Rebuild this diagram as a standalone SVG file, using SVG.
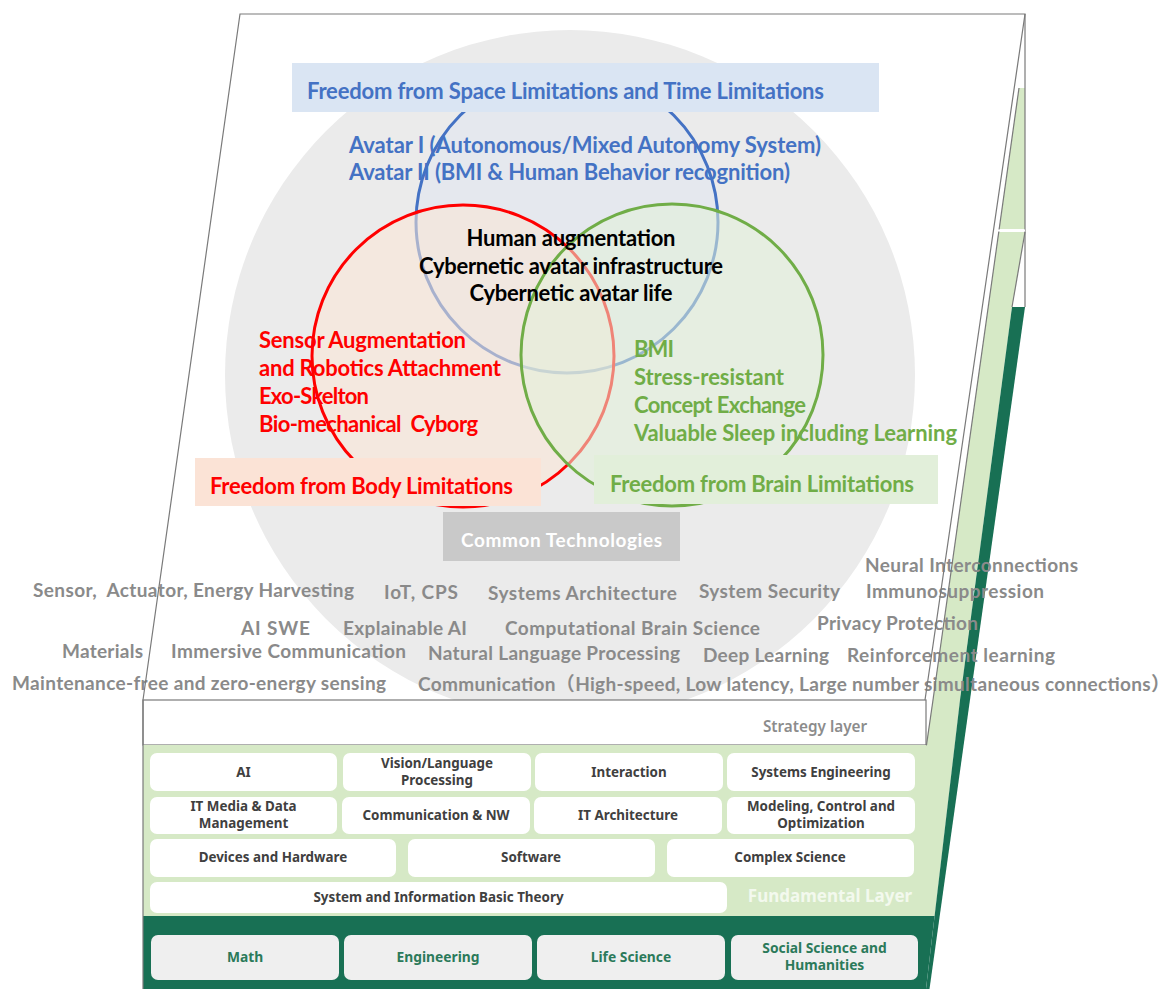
<svg xmlns="http://www.w3.org/2000/svg" width="1173" height="989" viewBox="0 0 1173 989">
<style>
text{white-space:pre}
.t{font-family:Lato,"Liberation Sans",sans-serif;font-weight:700;font-size:22px}
.tech{font-family:Lato,"Liberation Sans","Noto Sans CJK JP",sans-serif;font-weight:700;font-size:19px;fill:#8a8a8a}
.wb{fill:#ffffff}
.gb{fill:#efefef}
.bt{font-family:"Noto Sans","Liberation Sans",sans-serif;font-weight:700;font-size:13.4px;fill:#404040;text-anchor:middle}
.dt{font-family:"Noto Sans","Liberation Sans",sans-serif;font-weight:700;font-size:13.8px;fill:#2b7a5a;text-anchor:middle}
.edge{fill:none;stroke:#7a7a7a;stroke-width:1.2}
.lg{fill:#d6e9c6}
.dg{fill:#187054}
</style>

<g id="top-face">
<polygon points="240,14 1025,14 925,700 143,700" fill="#ffffff"/>
</g>

<g id="side">
<polygon class="lg" points="1019,88 1025,88 1025,229 999.1,229"/>
<polygon class="lg" points="998.7,232 1025,232 1012,307 960,700 934.6,916 926,916 926,745 933,700"/>
<polygon class="dg" points="1012,307 1025,307 929.5,989 926,989 960,700"/>
</g>

<g id="common-circle">
<circle cx="570" cy="375" r="345" fill="#ebebeb"/>
</g>

<g id="venn">
<circle cx="567" cy="222" r="151" fill="#dae3f3" fill-opacity="0.35" stroke="#4472c4" stroke-width="3"/>
<circle cx="463" cy="356" r="151" fill="#fbe5d6" fill-opacity="0.55" stroke="#ff0000" stroke-width="3"/>
<circle cx="672" cy="355" r="151" fill="#e2f0d9" fill-opacity="0.55" stroke="#70ad47" stroke-width="3"/>
</g>

<g id="space-node">
<rect x="292" y="63" width="587" height="49" fill="#dae5f3"/>
<text class="t" x="307" y="99" fill="#4472c4" textLength="517">Freedom from Space Limitations and Time Limitations</text>
</g>

<g id="avatar-text">
<text class="t" x="349" y="153" fill="#4472c4" textLength="472">Avatar I (Autonomous/Mixed Autonomy System)</text>
<text class="t" x="349" y="180" fill="#4472c4" textLength="441">Avatar II (BMI &amp; Human Behavior recognition)</text>
</g>

<g id="center-text">
<text class="t" x="571" y="246" fill="#000" text-anchor="middle" textLength="209">Human augmentation</text>
<text class="t" x="571" y="274" fill="#000" text-anchor="middle" textLength="304">Cybernetic avatar infrastructure</text>
<text class="t" x="571" y="301" fill="#000" text-anchor="middle" textLength="203">Cybernetic avatar life</text>
</g>

<g id="body-text">
<text class="t" x="259" y="348" fill="#ff0000" textLength="207">Sensor Augmentation</text>
<text class="t" x="259" y="376" fill="#ff0000" textLength="242">and Robotics Attachment</text>
<text class="t" x="259" y="404" fill="#ff0000" textLength="110">Exo-Skelton</text>
<text class="t" x="259" y="432" fill="#ff0000" textLength="219">Bio-mechanical  Cyborg</text>
</g>

<g id="brain-text">
<text class="t" x="634" y="357" fill="#70ad47" textLength="40">BMI</text>
<text class="t" x="634" y="385" fill="#70ad47" textLength="150">Stress-resistant</text>
<text class="t" x="634" y="413" fill="#70ad47" textLength="172">Concept Exchange</text>
<text class="t" x="634" y="441" fill="#70ad47" textLength="323">Valuable Sleep including Learning</text>
</g>

<g id="body-node">
<rect x="195" y="458" width="346" height="48" fill="#fbe3d6"/>
<text class="t" x="210" y="494" fill="#ff0000" textLength="303">Freedom from Body Limitations</text>
</g>

<g id="brain-node">
<rect x="594" y="455" width="344" height="49" fill="#e2efda"/>
<text class="t" x="610" y="492" fill="#70ad47" textLength="304">Freedom from Brain Limitations</text>
</g>

<g id="common-node">
<rect x="443" y="512" width="237" height="49" fill="#c9c9c9"/>
<text class="t" x="561.5" y="547" font-size="19" style="font-size:19px" fill="#ffffff" text-anchor="middle" textLength="201">Common Technologies</text>
</g>

<g id="tech-text">
<text class="tech" x="865" y="572" textLength="213">Neural Interconnections</text>
<text class="tech" x="33" y="597" textLength="321">Sensor,  Actuator, Energy Harvesting</text>
<text class="tech" x="384" y="599" textLength="74">IoT, CPS</text>
<text class="tech" x="488" y="600" textLength="189">Systems Architecture</text>
<text class="tech" x="699" y="598" textLength="141">System Security</text>
<text class="tech" x="866" y="598" textLength="178">Immunosuppression</text>
<text class="tech" x="241" y="635" textLength="69">AI SWE</text>
<text class="tech" x="343" y="635" textLength="124">Explainable AI</text>
<text class="tech" x="505" y="635" textLength="255">Computational Brain Science</text>
<text class="tech" x="817" y="630" textLength="161">Privacy Protection</text>
<text class="tech" x="62" y="658" textLength="81">Materials</text>
<text class="tech" x="171" y="658" textLength="235">Immersive Communication</text>
<text class="tech" x="428" y="660" textLength="252">Natural Language Processing</text>
<text class="tech" x="703" y="662" textLength="126">Deep Learning</text>
<text class="tech" x="847" y="662" textLength="208">Reinforcement learning</text>
<text class="tech" x="12" y="690" textLength="374">Maintenance-free and zero-energy sensing</text>
<text class="tech" x="418" y="691" textLength="752">Communication（High-speed, Low latency, Large number simultaneous connections）</text>
</g>

<g id="strategy-layer">
<rect x="143" y="700" width="783" height="45" fill="#ffffff" stroke="#7a7a7a" stroke-width="1.2"/>
<text x="815" y="732" font-family="'Noto Sans','Liberation Sans',sans-serif" font-weight="600" font-size="15.3" fill="#8c8c8c" text-anchor="middle">Strategy layer</text>
</g>

<g id="fundamental-layer">
<rect class="lg" x="143" y="745" width="783" height="171"/>
<text x="830" y="902" font-family="'Noto Sans','Liberation Sans',sans-serif" font-weight="700" font-size="17" fill="#f3f9ee" text-anchor="middle">Fundamental Layer</text>
</g>

<g id="node-ai"><rect class="wb" x="150" y="753" width="187" height="38" rx="7"/><text class="bt" x="243.5" y="777">AI</text></g>
<g id="node-vision"><rect class="wb" x="343" y="753" width="188" height="38" rx="7"/><text class="bt" x="437" y="768">Vision/Language</text><text class="bt" x="437" y="785">Processing</text></g>
<g id="node-interaction"><rect class="wb" x="535" y="753" width="188" height="38" rx="7"/><text class="bt" x="629" y="777">Interaction</text></g>
<g id="node-syseng"><rect class="wb" x="727" y="753" width="188" height="38" rx="7"/><text class="bt" x="821" y="777">Systems Engineering</text></g>

<g id="node-itmedia"><rect class="wb" x="150" y="797" width="187" height="37" rx="7"/><text class="bt" x="243.5" y="811">IT Media &amp; Data</text><text class="bt" x="243.5" y="828">Management</text></g>
<g id="node-comm"><rect class="wb" x="342" y="797" width="188" height="37" rx="7"/><text class="bt" x="436" y="820">Communication &amp; NW</text></g>
<g id="node-itarch"><rect class="wb" x="534" y="797" width="188" height="37" rx="7"/><text class="bt" x="628" y="820">IT Architecture</text></g>
<g id="node-modeling"><rect class="wb" x="727" y="797" width="188" height="37" rx="7"/><text class="bt" x="821" y="811">Modeling, Control and</text><text class="bt" x="821" y="828">Optimization</text></g>

<g id="node-devices"><rect class="wb" x="150" y="839" width="246" height="38" rx="7"/><text class="bt" x="273" y="862">Devices and Hardware</text></g>
<g id="node-software"><rect class="wb" x="408" y="839" width="247" height="38" rx="7"/><text class="bt" x="531" y="862">Software</text></g>
<g id="node-complex"><rect class="wb" x="667" y="839" width="247" height="38" rx="7"/><text class="bt" x="790" y="862">Complex Science</text></g>

<g id="node-basic"><rect class="wb" x="150" y="882" width="577" height="31" rx="7"/><text class="bt" x="438.5" y="902">System and Information Basic Theory</text></g>

<g id="base-layer">
<polygon class="dg" points="143,916 934.6,916 926,989 143,989"/>
</g>
<g id="node-math"><rect class="gb" x="151" y="935" width="188" height="45" rx="7"/><text class="dt" x="245" y="962">Math</text></g>
<g id="node-eng"><rect class="gb" x="344" y="935" width="188" height="45" rx="7"/><text class="dt" x="438" y="962">Engineering</text></g>
<g id="node-life"><rect class="gb" x="537" y="935" width="188" height="45" rx="7"/><text class="dt" x="631" y="962">Life Science</text></g>
<g id="node-social"><rect class="gb" x="731" y="935" width="187" height="45" rx="7"/><text class="dt" x="824.5" y="953">Social Science and</text><text class="dt" x="824.5" y="970">Humanities</text></g>

<g id="edges">
<polyline class="edge" points="143,700 240,14 1025,14 925,700"/>
<line class="edge" x1="1019" y1="88" x2="933" y2="700"/>
<line class="edge" x1="933" y1="700" x2="926.5" y2="745"/>
<line class="edge" x1="1025" y1="14" x2="1025" y2="307"/>
<line class="edge" x1="1025" y1="232" x2="1012" y2="307"/>
<line x1="998" y1="230.5" x2="1025" y2="230.5" stroke="#ffffff" stroke-width="2"/>
<line class="edge" x1="143" y1="700" x2="143" y2="989"/>
</g>
</svg>
